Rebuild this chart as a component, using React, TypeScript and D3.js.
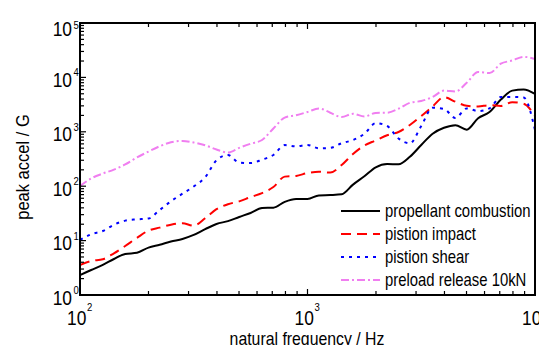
import React from "react";
import * as d3 from "d3";

const frequencies = [100, 112, 126, 141, 158, 178, 200, 224, 251, 282, 316, 355, 398, 447, 501, 562, 631, 708, 794, 891, 1000, 1122, 1259, 1413, 1585, 1778, 1995, 2239, 2512, 2818, 3162, 3548, 3981, 4467, 5012, 5623, 6310, 7079, 7943, 8913, 10000];

const propellantCombustion = [2.33, 2.88, 3.59, 4.59, 5.67, 5.97, 7.43, 8.37, 9.59, 10.7, 12.7, 16.2, 20.2, 22.8, 27.2, 32.2, 39.7, 40.3, 51.6, 58.2, 58.2, 67.8, 68.9, 71.0, 107, 152, 222, 255, 253, 347, 572, 923, 1186, 1322, 1094, 1778, 2312, 3908, 5715, 6012, 4955];

const pistionImpact = [3.56, 4.22, 4.53, 5.84, 7.96, 11.2, 15.3, 17.3, 19.6, 20.9, 18.8, 25.8, 37.8, 46.7, 52.7, 63.1, 74.4, 96.6, 150, 154, 175, 184, 178, 245, 391, 560, 695, 865, 991, 1334, 1950, 2917, 4345, 3573, 3006, 2917, 3083, 2980, 3499, 3289, 1950];

const pistionShear = [10.3, 13.1, 15.0, 19.6, 23.3, 24.6, 25.5, 36.5, 52.7, 72.8, 98.7, 146, 299, 375, 272, 266, 307, 375, 570, 539, 574, 498, 506, 617, 706, 918, 1439, 1279, 753, 615, 1279, 2773, 2636, 1794, 2692, 2412, 2704, 4363, 4381, 4274, 1079];

const preloadRelease = [101, 139, 171, 202, 251, 338, 433, 543, 641, 681, 636, 565, 473, 415, 506, 604, 706, 1151, 1824, 2018, 2312, 2692, 2244, 1871, 2143, 1910, 2225, 2244, 2649, 3413, 3683, 4363, 5715, 5483, 7993, 12620, 11990, 17860, 20460, 23900, 21800];

const seriesNames = ["propellant combustion", "pistion impact", "pistion shear", "preload release 10kN"];
const seriesValues = [propellantCombustion, pistionImpact, pistionShear, preloadRelease];
const seriesColors = ["#000000", "#ff0000", "#0000ff", "#f07ef0"];
const seriesDash = ["none", "10,6", "3,5", "8,3,2,3"];

const xTickExps = [2, 3, 4];
const yTickExps = [0, 1, 2, 3, 4, 5];

const W = 539, H = 345;
const L = 80, R = 535, T = 23, B = 295;

function NText(props: { x: number; y: number; size: number; sx?: number; anchor?: string; rotate?: number; children: React.ReactNode }) {
  const { x, y, size, sx = 0.86, anchor = "start", rotate = 0, children } = props;
  return (
    <text
      transform={`translate(${x},${y})${rotate ? ` rotate(${rotate})` : ""} scale(${sx},1)`}
      fontSize={size}
      textAnchor={anchor}
      fill="#000"
    >
      {children}
    </text>
  );
}

export default function App() {
  const x = d3.scaleLog().domain([100, 10000]).range([L, R]);
  const y = d3.scaleLog().domain([1, 1e5]).range([B, T]);

  const xMinor: number[] = [];
  for (let e = 2; e < 4; e++) for (let m = 2; m <= 9; m++) xMinor.push(m * Math.pow(10, e));
  const yMinor: number[] = [];
  for (let e = 0; e < 5; e++) for (let m = 2; m <= 9; m++) yMinor.push(m * Math.pow(10, e));

  const font = "'Liberation Sans', Arial, sans-serif";

  return (
    <svg width={W} height={H} style={{ position: "absolute", left: 0, top: 0, background: "#fff" }} fontFamily={font}>
      <defs>
        <clipPath id="plotclip">
          <rect x={L} y={T} width={R - L} height={B - T} />
        </clipPath>
      </defs>
      <rect x={0} y={0} width={W} height={H} fill="#fff" />
      <g clipPath="url(#plotclip)">
        {seriesValues.map((vals, i) => {
          const line = d3
            .line<number>()
            .x((_, j) => x(frequencies[j]))
            .y((d) => y(d))
            .curve(d3.curveMonotoneX);
          return (
            <path
              key={i}
              d={line(vals) || ""}
              fill="none"
              stroke={seriesColors[i]}
              strokeWidth={2}
              strokeDasharray={seriesDash[i]}
            />
          );
        })}
      </g>
      <g stroke="#000" strokeWidth={1.2}>
        {xMinor.map((v, i) => (
          <g key={"xm" + i}>
            <line x1={x(v)} x2={x(v)} y1={B} y2={B - 4} />
            <line x1={x(v)} x2={x(v)} y1={T} y2={T + 4} />
          </g>
        ))}
        {xTickExps.map((e) => (
          <g key={"xM" + e}>
            <line x1={x(Math.pow(10, e))} x2={x(Math.pow(10, e))} y1={B} y2={B - 6} />
            <line x1={x(Math.pow(10, e))} x2={x(Math.pow(10, e))} y1={T} y2={T + 6} />
          </g>
        ))}
        {yMinor.map((v, i) => (
          <line key={"ym" + i} x1={L} x2={L + 4} y1={y(v)} y2={y(v)} />
        ))}
        {yTickExps.map((e) => (
          <line key={"yM" + e} x1={L} x2={L + 6} y1={y(Math.pow(10, e))} y2={y(Math.pow(10, e))} />
        ))}
      </g>
      <rect x={L} y={T} width={R - L} height={B - T} fill="none" stroke="#000" strokeWidth={2} />
      {yTickExps.map((e) => {
        const ty = y(Math.pow(10, e));
        const base = Math.max(ty + 9.5, 36);
        const ebase = Math.max(ty - 1, 29);
        return (
          <g key={"yl" + e}>
            <NText x={72} y={base} size={20} sx={0.87} anchor="end">10</NText>
            <NText x={73.5} y={ebase} size={11} sx={0.87}>{e}</NText>
          </g>
        );
      })}
      {xTickExps.map((e) => {
        const tx = x(Math.pow(10, e));
        return (
          <g key={"xl" + e}>
            <NText x={tx - 13} y={324.5} size={19.5} sx={0.89}>10</NText>
            <NText x={tx + 7} y={310.5} size={11} sx={0.87}>{e}</NText>
          </g>
        );
      })}
      <NText x={307} y={345} size={18} sx={0.88} anchor="middle">natural frequency / Hz</NText>
      <NText x={29} y={167} size={19} sx={0.87} anchor="middle" rotate={-90}>peak accel / G</NText>
      {seriesNames.map((name, i) => {
        const ly = 211 + i * 23;
        return (
          <g key={"lg" + i}>
            <line x1={341} x2={380} y1={ly} y2={ly} stroke={seriesColors[i]} strokeWidth={2} strokeDasharray={seriesDash[i]} />
            <NText x={385} y={ly + 5.5} size={17.5} sx={0.85}>{name}</NText>
          </g>
        );
      })}
    </svg>
  );
}
